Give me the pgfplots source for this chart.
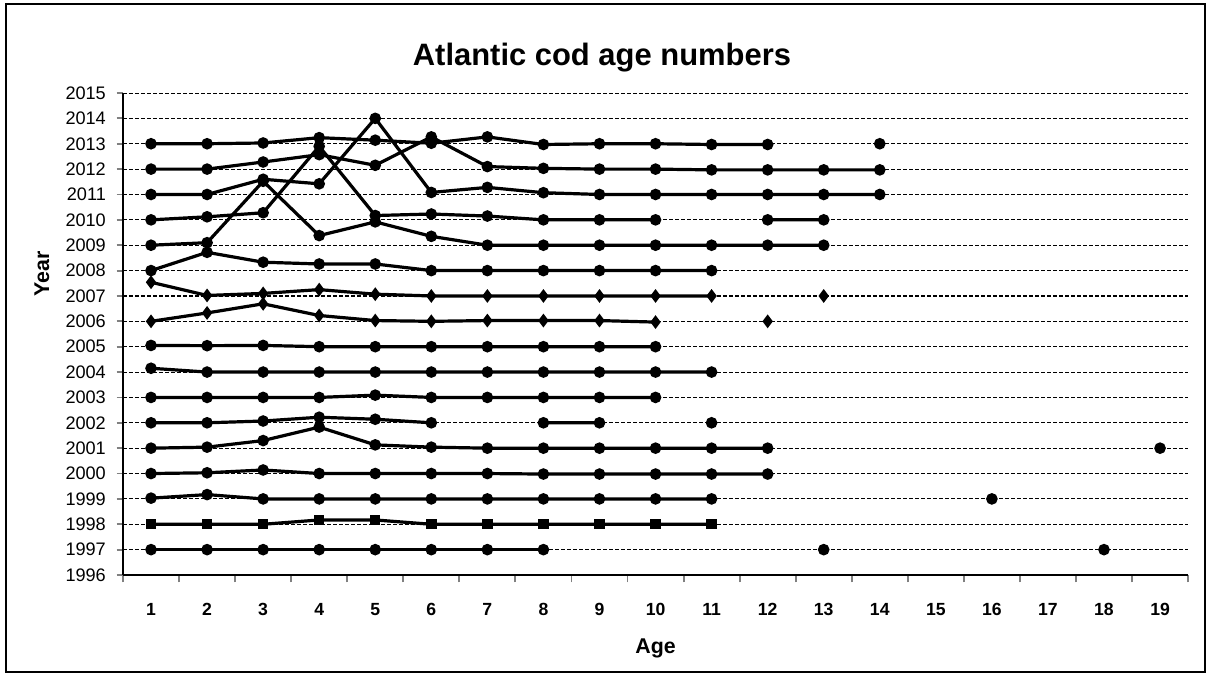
\documentclass[border=0pt]{standalone}
\usepackage{pgfplots}
\pgfplotsset{compat=1.18}
\usepackage{fontspec}
\setmainfont{Liberation Sans}

\pgfplotsset{
  ser/.style={black, line width=1.2pt, mark=*, mark size=1.55pt, mark options={solid}},
  dia/.style={black, line width=1.2pt, mark=diamond*, mark size=1.6pt, mark options={solid}},
  sqr/.style={black, line width=1.2pt, mark=square*, mark size=1.35pt, mark options={solid}},
}

\begin{document}
\begin{tikzpicture}
\begin{axis}[
    at={(0,0)}, anchor=south west,
    scale only axis,
    width=399.4pt, height=180.75pt,
    xmin=0.5, xmax=19.5,
    ymin=1996, ymax=2015,
    axis lines=left,
    axis line style={-, line width=0.7pt},
    xtick={1,...,19},
    major x tick style={draw=none},
    minor xtick={0.5,1.5,...,19.5},
    minor x tick style={line width=0.7pt},
    minor tick length=2.8pt,
    ytick={1996,...,2015},
    major tick length=2.4pt,
    tick align=outside,
    y tick style={line width=0.7pt},
    ymajorgrids=true,
    grid style={black, line width=0.4pt, dash pattern=on 1.5pt off 0.75pt},
    unbounded coords=jump,
    /pgf/number format/1000 sep={},
    /pgf/number format/assume math mode=true,
    yticklabel style={font=\fontsize{6.8}{8}\selectfont, anchor=east, xshift=-0.5pt},
    xticklabel style={font=\fontsize{6.6}{8}\selectfont\bfseries, anchor=base, yshift=-12.6pt},
    clip=false,
]
% 2013
\addplot[ser] coordinates {(1,2013.0)(2,2013.0)(3,2013.03)(4,2013.24)(5,2013.14)(6,2013.02)(7,2013.27)(8,2012.97)(9,2013.0)(10,2013.0)(11,2012.97)(12,2012.97)(13,nan)(14,2013.0)};
% 2012
\addplot[ser] coordinates {(1,2012.0)(2,2012.0)(3,2012.28)(4,2012.57)(5,2012.15)(6,2013.27)(7,2012.1)(8,2012.03)(9,2012.0)(10,2012.0)(11,2011.97)(12,2011.97)(13,2011.97)(14,2011.97)};
% 2011
\addplot[ser] coordinates {(1,2011.0)(2,2011.0)(3,2011.6)(4,2011.42)(5,2014.0)(6,2011.08)(7,2011.28)(8,2011.07)(9,2011.0)(10,2011.0)(11,2011.0)(12,2011.0)(13,2011.0)(14,2011.0)};
% 2010
\addplot[ser] coordinates {(1,2010.0)(2,2010.12)(3,2010.28)(4,2012.9)(5,2010.17)(6,2010.23)(7,2010.15)(8,2010.0)(9,2010.0)(10,2010.0)(11,nan)(12,2010.0)(13,2010.0)};
% 2009
\addplot[ser] coordinates {(1,2009.0)(2,2009.1)(3,2011.52)(4,2009.38)(5,2009.92)(6,2009.35)(7,2009.0)(8,2009.0)(9,2009.0)(10,2009.0)(11,2009.0)(12,2009.0)(13,2009.0)};
% 2008
\addplot[ser] coordinates {(1,2008.0)(2,2008.72)(3,2008.33)(4,2008.26)(5,2008.26)(6,2008.0)(7,2008.0)(8,2008.0)(9,2008.0)(10,2008.0)(11,2008.0)};
% 2007
\addplot[dia] coordinates {(1,2007.54)(2,2007.02)(3,2007.1)(4,2007.25)(5,2007.07)(6,2007.0)(7,2007.0)(8,2007.0)(9,2007.0)(10,2007.0)(11,2007.0)(12,nan)(13,2007.0)};
% 2006
\addplot[dia] coordinates {(1,2006.0)(2,2006.33)(3,2006.69)(4,2006.23)(5,2006.03)(6,2006.0)(7,2006.03)(8,2006.03)(9,2006.03)(10,2005.97)(11,nan)(12,2006.0)};
% 2005
\addplot[ser] coordinates {(1,2005.05)(2,2005.04)(3,2005.05)(4,2005.0)(5,2005.0)(6,2005.0)(7,2005.0)(8,2005.0)(9,2005.0)(10,2005.0)};
% 2004
\addplot[ser] coordinates {(1,2004.15)(2,2004.0)(3,2004.0)(4,2004.0)(5,2004.0)(6,2004.0)(7,2004.0)(8,2004.0)(9,2004.0)(10,2004.0)(11,2004.0)};
% 2003
\addplot[ser] coordinates {(1,2003.0)(2,2003.0)(3,2003.0)(4,2003.0)(5,2003.09)(6,2003.0)(7,2003.0)(8,2003.0)(9,2003.0)(10,2003.0)};
% 2002
\addplot[ser] coordinates {(1,2002.0)(2,2002.0)(3,2002.07)(4,2002.22)(5,2002.14)(6,2002.0)(7,nan)(8,2002.0)(9,2002.0)(10,nan)(11,2002.0)};
% 2001
\addplot[ser] coordinates {(1,2001.0)(2,2001.04)(3,2001.3)(4,2001.83)(5,2001.13)(6,2001.04)(7,2001.0)(8,2001.0)(9,2001.0)(10,2001.0)(11,2001.0)(12,2001.0)(13,nan)(19,2001.0)};
% 2000
\addplot[ser] coordinates {(1,2000.0)(2,2000.03)(3,2000.14)(4,2000.0)(5,2000.0)(6,2000.0)(7,2000.0)(8,1999.98)(9,1999.98)(10,1999.98)(11,1999.98)(12,1999.98)};
% 1999
\addplot[ser] coordinates {(1,1999.03)(2,1999.17)(3,1999.0)(4,1999.0)(5,1999.0)(6,1999.0)(7,1999.0)(8,1999.0)(9,1999.0)(10,1999.0)(11,1999.0)(12,nan)(16,1999.0)};
% 1998
\addplot[sqr] coordinates {(1,1998.0)(2,1998.0)(3,1998.0)(4,1998.17)(5,1998.17)(6,1998.0)(7,1998.0)(8,1998.0)(9,1998.0)(10,1998.0)(11,1998.0)};
% 1997
\addplot[ser] coordinates {(1,1997.0)(2,1997.0)(3,1997.0)(4,1997.0)(5,1997.0)(6,1997.0)(7,1997.0)(8,1997.0)(9,nan)(13,1997.0)(14,nan)(18,1997.0)};
\end{axis}
% title and axis titles
\node[anchor=base, font=\fontsize{11.6}{14}\selectfont\bfseries] at (179.6pt,191.0pt) {Atlantic cod age numbers};
\node[font=\fontsize{8}{10}\selectfont\bfseries] at (199.7pt,-27.4pt) {Age};
\node[rotate=90, font=\fontsize{8}{10}\selectfont\bfseries] at (-30.4pt,112.9pt) {Year};
% chart frame
\draw[line width=0.6pt] (-43.9pt,-36.4pt) rectangle (405.75pt,214.1pt);
\pgfresetboundingbox
\useasboundingbox (-46.125pt,-38.25pt) rectangle (407.625pt,215.625pt);
\end{tikzpicture}
\end{document}
